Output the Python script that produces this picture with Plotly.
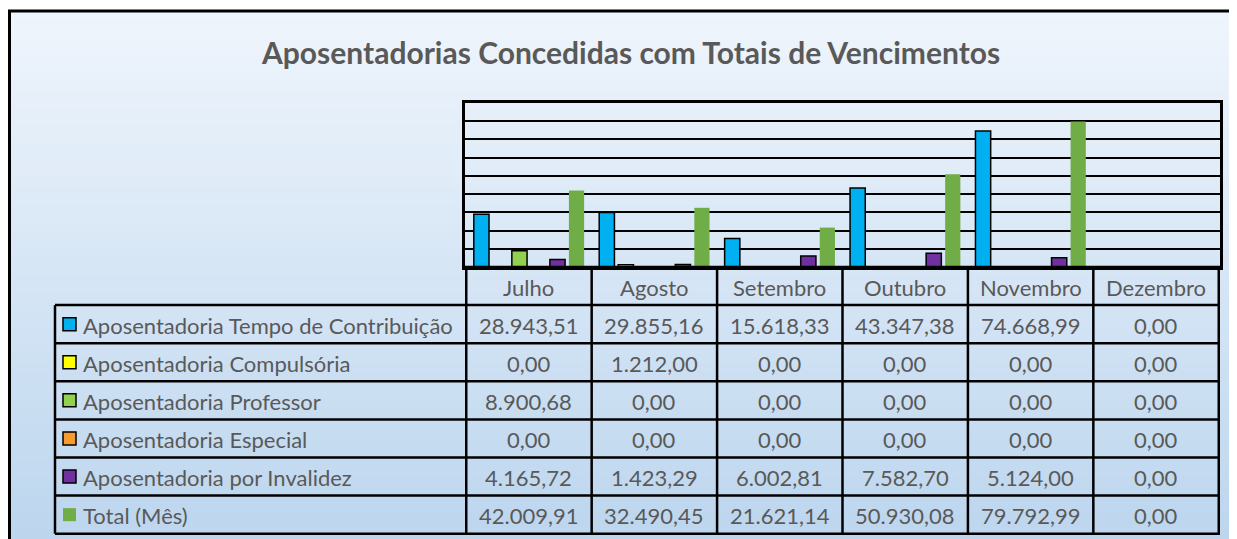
import plotly.graph_objects as go

# page body has an 8px margin, so the figure is drawn 8px in from the top-left
OFF = 8
W, H = 1237 - OFF, 539 - OFF

meses = ["Julho", "Agosto", "Setembro", "Outubro", "Novembro", "Dezembro"]
series_nomes = [
    "Aposentadoria Tempo de Contribuição",
    "Aposentadoria Compulsória",
    "Aposentadoria Professor",
    "Aposentadoria Especial",
    "Aposentadoria por Invalidez",
    "Total (Mês)",
]
tempo = [28943.51, 29855.16, 15618.33, 43347.38, 74668.99, 0.00]
compulsoria = [0.00, 1212.00, 0.00, 0.00, 0.00, 0.00]
professor = [8900.68, 0.00, 0.00, 0.00, 0.00, 0.00]
especial = [0.00, 0.00, 0.00, 0.00, 0.00, 0.00]
invalidez = [4165.72, 1423.29, 6002.81, 7582.70, 5124.00, 0.00]
total = [42009.91, 32490.45, 21621.14, 50930.08, 79792.99, 0.00]

series_valores = [tempo, compulsoria, professor, especial, invalidez, total]
cores = ["#00b0f0", "#ffff00", "#92d050", "#f79b2e", "#7030a0", "#70ad47"]
contornos = [1.5, 1.5, 1.5, 1.5, 1.5, 0]

TXT = "#595959"
FONTE = "Lato"
TAM = 22


def px_x(p):
    return (p - OFF) / W


def px_y(p):
    return 1 - (p - OFF) / H


def fmt(v):
    s = f"{v:,.2f}"
    return s.replace(",", "X").replace(".", ",").replace("X", ".")


fig = go.Figure()
for nome, vals, cor, lw in zip(series_nomes, series_valores, cores, contornos):
    fig.add_trace(go.Bar(
        x=meses, y=vals, name=nome,
        marker=dict(color=cor, line=dict(color="black", width=lw)),
        showlegend=False, hoverinfo="x+y",
    ))

# plot area geometry (reference pixels)
PL, PR, PT, PB = 465, 1220, 103, 267
TAB_L = 55
ROW_H = 38.1
rows_top = PB + ROW_H

shapes = []
# gradient background inside chart frame
n = 60
c0 = (239, 245, 252)
c1 = (189, 214, 238)
y_start = 11
for i in range(n):
    t = i / (n - 1)
    c = tuple(round(c0[k] + (c1[k] - c0[k]) * t) for k in range(3))
    ya = y_start + (539 - y_start) * i / n
    yb = y_start + (539 - y_start) * (i + 1) / n + 1
    shapes.append(dict(type="rect", xref="paper", yref="paper", layer="below",
                       x0=px_x(9), x1=1.01, y0=px_y(yb), y1=px_y(ya),
                       fillcolor=f"rgb{c}", line=dict(width=0)))
# outer frame
shapes.append(dict(type="rect", xref="paper", yref="paper", layer="above",
                   x0=px_x(9.5), x1=1.02, y0=-0.02, y1=px_y(11),
                   line=dict(color="black", width=3), fillcolor="rgba(0,0,0,0)"))

# table lines
linha = dict(color="black", width=2.5)
shapes.append(dict(type="line", xref="paper", yref="paper",
                   x0=px_x(PL), x1=px_x(PR), y0=px_y(PB), y1=px_y(PB), line=linha))
for r in range(7):
    yy = rows_top + r * ROW_H
    shapes.append(dict(type="line", xref="paper", yref="paper",
                       x0=px_x(TAB_L), x1=px_x(PR), y0=px_y(yy), y1=px_y(yy), line=linha))
for i in range(len(meses) + 1):
    shapes.append(dict(type="line", xref="x", yref="paper",
                       x0=i - 0.5, x1=i - 0.5, y0=px_y(PB), y1=px_y(rows_top + 6 * ROW_H),
                       line=linha))
shapes.append(dict(type="line", xref="paper", yref="paper",
                   x0=px_x(TAB_L), x1=px_x(TAB_L), y0=px_y(rows_top),
                   y1=px_y(rows_top + 6 * ROW_H), line=linha))

annotations = []
annotations.append(dict(text="<b>Aposentadorias Concedidas com Totais de Vencimentos</b>",
                        xref="paper", yref="paper", x=px_x(630), y=px_y(52),
                        xanchor="center", yanchor="middle", showarrow=False,
                        font=dict(family=FONTE, size=30, color=TXT)))
for m in meses:
    annotations.append(dict(text=m, xref="x", yref="paper", x=m, y=px_y(PB + ROW_H / 2 + 1),
                            xanchor="center", yanchor="middle", showarrow=False,
                            font=dict(family=FONTE, size=TAM, color=TXT)))
for r, (nome, vals, cor, lw) in enumerate(zip(series_nomes, series_valores, cores, contornos)):
    yc = rows_top + r * ROW_H + ROW_H / 2
    shapes.append(dict(type="rect", xref="paper", yref="paper",
                       x0=px_x(63), x1=px_x(76), y0=px_y(yc + 6.5), y1=px_y(yc - 6.5),
                       fillcolor=cor, line=dict(color="black", width=1.5 if lw else 0)))
    annotations.append(dict(text=nome, xref="paper", yref="paper", x=px_x(81), y=px_y(yc + 1),
                            xanchor="left", yanchor="middle", showarrow=False,
                            font=dict(family=FONTE, size=TAM, color=TXT)))
    for m, v in zip(meses, vals):
        annotations.append(dict(text=fmt(v), xref="x", yref="paper", x=m, y=px_y(yc + 1),
                                xanchor="center", yanchor="middle", showarrow=False,
                                font=dict(family=FONTE, size=TAM, color=TXT)))

fig.update_layout(
    width=W, height=H,
    margin=dict(l=0, r=0, t=0, b=0),
    paper_bgcolor="white",
    plot_bgcolor="rgba(0,0,0,0)",
    barmode="group",
    bargap=0.09,
    bargroupgap=0.2,
    shapes=shapes,
    annotations=annotations,
    xaxis=dict(domain=[px_x(PL), px_x(PR)], showticklabels=False, showgrid=False,
               showline=True, linecolor="black", linewidth=3, mirror=True,
               ticks="", fixedrange=True),
    yaxis=dict(domain=[px_y(PB), px_y(PT)], range=[0, 90000], dtick=10000,
               showticklabels=False, showgrid=True, gridcolor="black", gridwidth=2,
               zeroline=False, showline=True, linecolor="black", linewidth=3,
               mirror=True, ticks="", fixedrange=True),
)

fig.write_html("out.html")
